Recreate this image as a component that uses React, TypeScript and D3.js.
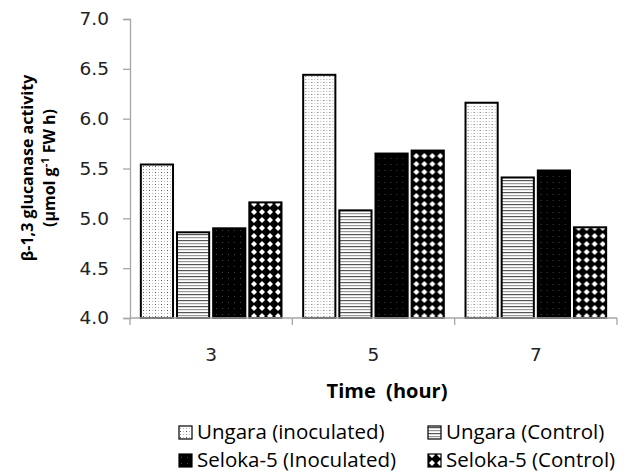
import { useEffect, useRef } from "react";
import * as d3 from "d3";

const categories = ["3", "5", "7"];
const seriesNames = [
  "Ungara (inoculated)",
  "Ungara (Control)",
  "Seloka-5 (Inoculated)",
  "Seloka-5 (Control)",
];
const ungaraInoculated = [5.54, 6.44, 6.16];
const ungaraControl = [4.86, 5.08, 5.41];
const selokaInoculated = [4.9, 5.65, 5.48];
const selokaControl = [5.16, 5.68, 4.91];
const yTicks = [4.0, 4.5, 5.0, 5.5, 6.0, 6.5, 7.0];

const seriesValues = [ungaraInoculated, ungaraControl, selokaInoculated, selokaControl];
const patternIds = ["pat-dots", "pat-stripes", "pat-dark", "pat-diamond"];

const App = () => {
  const svgRef = useRef<SVGSVGElement>(null);

  useEffect(() => {
    const width = 631;
    const height = 472;
    const margin = { top: 19, right: 14, bottom: 154, left: 130 };

    const svg = d3.select(svgRef.current);
    svg.selectAll("*").remove();
    svg.attr("width", width).attr("height", height);

    // patterns
    const defs = svg.append("defs");
    const dots = defs.append("pattern").attr("id", "pat-dots")
      .attr("patternUnits", "userSpaceOnUse").attr("width", 6).attr("height", 6);
    dots.append("rect").attr("width", 6).attr("height", 6).attr("fill", "#fff");
    [[1, 1, "#999"], [4, 1, "#bbb"], [1, 4, "#555"], [4, 4, "#bbb"]].forEach(([x, y, c]) =>
      dots.append("rect").attr("x", x).attr("y", y).attr("width", 1).attr("height", 1).attr("fill", c as string));

    const stripes = defs.append("pattern").attr("id", "pat-stripes")
      .attr("patternUnits", "userSpaceOnUse").attr("width", 6).attr("height", 6);
    stripes.append("rect").attr("width", 6).attr("height", 6).attr("fill", "#fff");
    stripes.append("rect").attr("y", 0).attr("width", 6).attr("height", 1.2).attr("fill", "#555");
    stripes.append("rect").attr("y", 3).attr("width", 6).attr("height", 1.2).attr("fill", "#999");

    const dark = defs.append("pattern").attr("id", "pat-dark")
      .attr("patternUnits", "userSpaceOnUse").attr("width", 6).attr("height", 6);
    dark.append("rect").attr("width", 6).attr("height", 6).attr("fill", "#000");
    dark.append("rect").attr("x", 2).attr("y", 2).attr("width", 1).attr("height", 1).attr("fill", "#444");

    const diamond = defs.append("pattern").attr("id", "pat-diamond")
      .attr("patternUnits", "userSpaceOnUse").attr("width", 8).attr("height", 8);
    diamond.append("rect").attr("width", 8).attr("height", 8).attr("fill", "#000");
    diamond.append("path").attr("d", "M4,1 L7,4 L4,7 L1,4 Z").attr("fill", "#fff");

    const x0 = d3.scaleBand()
      .domain(categories)
      .range([margin.left, width - margin.right])
      .padding(0);

    const x1 = d3.scaleBand()
      .domain(seriesNames)
      .range([0, x0.bandwidth()])
      .paddingInner(0.11)
      .paddingOuter(0.3);

    const y = d3.scaleLinear()
      .domain([4, 7])
      .range([height - margin.bottom, margin.top]);

    const textColor = "#222";
    const axisColor = "#a6a6a6";

    // Y axis
    svg.append("g")
      .attr("transform", `translate(${margin.left},0)`)
      .call(d3.axisLeft(y).tickValues(yTicks).tickFormat(d3.format(".1f")).tickSize(7).tickPadding(14))
      .call(g => g.select(".domain").attr("stroke", axisColor).attr("stroke-width", 1.3))
      .call(g => g.selectAll(".tick line").attr("stroke", axisColor).attr("stroke-width", 1.3))
      .call(g => g.selectAll("text")
        .attr("fill", textColor)
        .style("font-family", "DejaVu Sans, sans-serif")
        .style("font-size", "18.5px"));

    // Bars
    const groups = svg.append("g")
      .selectAll("g")
      .data(categories)
      .join("g")
      .attr("transform", d => `translate(${x0(d)},0)`);

    groups.selectAll("rect")
      .data((_, i) => seriesNames.map((name, s) => ({ name, s, value: seriesValues[s][i] })))
      .join("rect")
      .attr("x", d => x1(d.name)!)
      .attr("y", d => y(d.value))
      .attr("width", x1.bandwidth())
      .attr("height", d => y(4) - y(d.value))
      .attr("fill", d => `url(#${patternIds[d.s]})`)
      .attr("stroke", "#000")
      .attr("stroke-width", 2);

    // X axis (category boundaries as ticks)
    const xAxis = svg.append("g").attr("transform", `translate(0,${y(4)})`);
    xAxis.append("line")
      .attr("x1", margin.left).attr("x2", width - margin.right)
      .attr("stroke", axisColor).attr("stroke-width", 1.3);
    const bounds = [...categories.map(c => x0(c)!), width - margin.right];
    xAxis.selectAll("line.tick")
      .data(bounds)
      .join("line")
      .attr("class", "tick")
      .attr("x1", d => d).attr("x2", d => d)
      .attr("y1", 0).attr("y2", 7)
      .attr("stroke", axisColor).attr("stroke-width", 1.3);
    xAxis.selectAll("text")
      .data(categories)
      .join("text")
      .attr("x", d => x0(d)! + x0.bandwidth() / 2)
      .attr("y", 43)
      .attr("text-anchor", "middle")
      .attr("fill", textColor)
      .style("font-family", "DejaVu Sans, sans-serif")
      .style("font-size", "18.5px")
      .text(d => d);

    // X title
    svg.append("text")
      .attr("x", 387)
      .attr("y", 398)
      .attr("text-anchor", "middle")
      .attr("fill", "#000")
      .style("font-family", "Open Sans, sans-serif")
      .style("font-weight", "bold")
      .style("font-size", "20px")
      .style("white-space", "pre")
      .text("Time  (hour)");

    // Y title
    const yTitle = svg.append("g").attr("transform", "translate(0,168) rotate(-90)");
    yTitle.append("text")
      .attr("x", 0).attr("y", 33)
      .attr("text-anchor", "middle")
      .style("font-family", "Open Sans, sans-serif")
      .style("font-weight", "bold")
      .style("font-size", "16px")
      .text("β-1,3 glucanase activity");
    const l2 = yTitle.append("text")
      .attr("x", 0).attr("y", 55)
      .attr("text-anchor", "middle")
      .style("font-family", "Open Sans, sans-serif")
      .style("font-weight", "bold")
      .style("font-size", "16px");
    l2.append("tspan").text("(µmol g");
    l2.append("tspan").attr("dy", -6).style("font-size", "11px").text("-1");
    l2.append("tspan").attr("dy", 6).text(" FW h)");

    // Legend
    const legendPos = [
      { x: 179, y: 439 },
      { x: 428, y: 439 },
      { x: 179, y: 467 },
      { x: 428, y: 467 },
    ];
    const legend = svg.append("g")
      .selectAll("g")
      .data(seriesNames)
      .join("g")
      .attr("transform", (_, i) => `translate(${legendPos[i].x},${legendPos[i].y})`);
    legend.append("rect")
      .attr("x", 0).attr("y", -13)
      .attr("width", 13).attr("height", 13)
      .attr("fill", (_, i) => `url(#${patternIds[i]})`)
      .attr("stroke", "#000")
      .attr("stroke-width", 1.2);
    legend.append("text")
      .attr("x", 18).attr("y", 0)
      .attr("fill", "#000")
      .style("font-family", "Open Sans, sans-serif")
      .style("font-size", "20.5px")
      .text(d => d);

    return () => {
      svg.selectAll("*").remove();
    };
  }, []);

  return (
    <div style={{ position: "absolute", left: 0, top: 0 }}>
      <svg ref={svgRef} style={{ display: "block", background: "#fff" }}></svg>
    </div>
  );
};

export default App;
